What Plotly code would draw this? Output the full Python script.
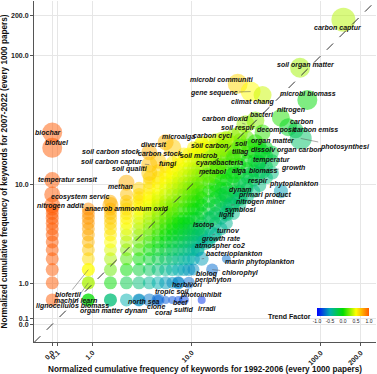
import math
import plotly.graph_objects as go

# ---------------- data ----------------
# papers per period (used for "every 1000 papers" normalisation)
N_PAPERS_1992_2006 = 1163
N_PAPERS_2007_2022 = 1923

tick_values = [0, 0.1, 1, 10, 100, 200]
tick_labels = ["0.0", "0.1", "1.0", "10.0", "100.0", "200.0"]

# unlabeled keywords: keyword count in 1992-2006 (column) and counts in 2007-2022
grid_c1 = [0, 1, 2, 3, 4, 5, 6, 7, 8, 9, 10, 11, 12, 13, 14, 16, 18, 20, 22, 25, 28, 32, 36, 40, 45, 50]
grid_c2 = [
    [1, 2, 3, 4, 5, 6, 7, 8, 9, 10, 11, 12],
    [1, 2, 3, 4, 5, 6, 7, 8, 9, 10, 11, 12],
    [1, 2, 3, 4, 5, 6, 7, 8, 9, 10, 11, 12, 14],
    [1, 2, 3, 4, 5, 6, 7, 8, 9, 10, 11, 12, 13, 14, 16],
    [1, 2, 3, 4, 5, 6, 7, 8, 9, 10, 11, 12, 13, 14, 15, 16, 18],
    [1, 2, 3, 4, 5, 6, 7, 8, 9, 10, 11, 12, 13, 14, 15, 16, 18, 20, 22],
    [1, 2, 3, 4, 5, 6, 7, 8, 9, 10, 11, 12, 13, 14, 15, 16, 18, 20, 22, 25],
    [2, 3, 4, 5, 6, 7, 8, 9, 10, 11, 12, 13, 14, 16, 18, 20, 22, 24, 27],
    [3, 4, 5, 6, 7, 8, 9, 10, 11, 12, 13, 14, 16, 18, 20, 22, 24, 26, 29],
    [2, 3, 4, 5, 6, 7, 8, 9, 10, 12, 14, 16, 18, 20, 22, 25, 28, 31],
    [3, 4, 5, 6, 7, 8, 9, 10, 12, 14, 16, 18, 20, 23, 26, 30, 34],
    [3, 4, 5, 6, 7, 8, 9, 10, 12, 14, 16, 18, 20, 23, 26, 30, 34],
    [4, 5, 6, 7, 8, 10, 12, 14, 16, 18, 20, 23, 26, 30, 34, 38],
    [5, 6, 7, 8, 10, 12, 14, 16, 18, 20, 23, 26, 30, 34, 38],
    [6, 7, 9, 11, 13, 15, 17, 20, 23, 26, 30, 34, 38, 42],
    [6, 8, 10, 12, 14, 17, 20, 23, 26, 30, 34, 38, 42],
    [7, 9, 11, 13, 15, 17, 19, 22, 25, 28, 32, 36, 40, 44],
    [8, 10, 12, 14, 16, 18, 21, 24, 28, 32, 36, 40, 45],
    [9, 11, 13, 15, 18, 21, 24, 28, 32, 36, 40, 46],
    [11, 13, 15, 17, 20, 24, 28, 32, 37, 42, 48],
    [13, 15, 17, 20, 24, 28, 33, 38, 44],
    [15, 18, 22, 26, 30, 35, 40, 46],
    [17, 21, 25, 30, 35, 40],
    [19, 24, 29, 34, 40],
    [22, 27, 33, 38],
    [24, 30, 35],
]

# labeled keywords
kw_names = [
    "carbon captur", "soil organ matter", "microbi biomass", "microbi communiti", "gene sequenc",
    "climat chang", "nitrogen", "bacteri", "carbon", "carbon dioxid",
    "soil respir", "decomposit", "carbon emiss", "photosynthesi", "carbon cycl",
    "organ matter", "soil carbon", "soil", "dissolv organ carbon", "soil microb",
    "microalga", "tillag", "temperatur", "cyanobacteria", "growth",
    "metabol", "alga", "biomass", "respir", "phytoplankton",
    "dynam", "primari product", "nitrogen miner", "symbiosi", "light",
    "isotop", "turnov", "growth rate", "atmospher co2", "bacterioplankton",
    "marin phytoplankton", "chlorophyl", "biolog", "periphyton", "herbivori",
    "tropic soil", "photoinhibit", "beef", "sulfid", "irradi",
    "coral", "clone", "north sea", "organ matter dynam", "lignocellulos biomass",
    "machin learn", "biofertil", "anaerob ammonium oxid", "nitrogen addit", "ecosystem servic",
    "temperatur sensit", "biochar", "biofuel", "soil carbon stock", "soil carbon captur",
    "carbon stock", "diversit", "fungi", "soil qualiti", "methan",
]
kw_c1 = [
    172, 81, 92, 27, 34,
    42, 58, 37, 66, 31,
    28, 42, 75, 82, 22,
    37, 21, 28, 42, 17,
    14, 25, 39, 19, 42,
    16, 25, 34, 31, 58,
    22, 28, 24, 22, 17,
    14, 17, 15, 13, 14,
    22, 17, 12, 11, 9,
    8, 10, 8, 9, 14,
    7, 6, 4, 2, 1,
    1, 1, 2, 0, 0,
    0, 0, 0, 5, 5,
    8, 7, 6, 5, 3,
]
kw_c2 = [
    358, 156, 89, 118, 103,
    97, 65, 62, 55, 58,
    49, 50, 52, 45, 44,
    42, 38, 39, 35, 32,
    40, 32, 29, 27, 25,
    23, 23, 23, 19, 17,
    16, 15, 13, 11, 10,
    8, 7, 6, 5, 4,
    4, 3, 3, 2, 2,
    2, 1, 1, 1, 1,
    1, 1, 1, 1, 1,
    2, 3, 13, 13, 16,
    21, 50, 38, 35, 28,
    38, 42, 30, 24, 20,
]

# ---------------- styling (positions / sizes) ----------------
GRID_SIZE = 13
kw_marker_px = [
    24, 20, 20, 20, 20,
    18, 18, 18, 18, 18,
    16, 16, 16, 22, 16,
    16, 16, 16, 16, 16,
    16, 16, 16, 16, 16,
    16, 16, 16, 16, 14,
    16, 16, 16, 16, 16,
    16, 16, 16, 14, 14,
    9, 12, 12, 12, 12,
    12, 10, 8, 8, 8,
    8, 10, 12, 13, 13,
    13, 13, 16, 16, 16,
    16, 20, 20, 16, 16,
    18, 16, 16, 16, 16,
]
# label centre offsets from the bubble, in pixels (dx right, dy down)
label_dx = [
    -5, 6, 1, -16, -37,
    -10, 10, 7, 13, -20,
    -1, 14, 20, 44, -13,
    18, -14, 2, 24, -13,
    -23, 7, 14, 1, 30,
    4, 6, 13, 13, 13,
    14, 25, 30, 14, 14,
    2, 16, 15, 22, 32,
    33, 28, 14, 24, 9,
    0, 17, 8, 5, 6,
    -2, -2, 5, 3, -16,
    -13, -20, 17, 8, 28,
    15, -4, 5, -38, -37,
    -12, -12, 10, -19, -6,
]
label_dy = [
    8, -3, -6, -4, 1,
    7, -8, -6, -6, -6,
    -6, -3, -1, 9, -4,
    -1, -2, -3, -2, -2,
    -8, -5, -3, -4, -3,
    -4, -4, -5, -4, -7,
    -4, -3, -3, -3, -3,
    -4, -5, -3, -4, -5,
    3, 3, 4, -3, 2,
    9, -5, 3, 10, 9,
    13, 7, 2, 11, 6,
    18, 25, 3, 1, 3,
    0, 0, -5, -1, -3,
    6, 2, 3, -4, 4,
]


def tr(v):
    return math.log10(v + 1.0)


def norm1(c):
    return c * 1000.0 / N_PAPERS_1992_2006


def norm2(c):
    return c * 1000.0 / N_PAPERS_2007_2022


def trend(c1, c2):
    return (c2 - c1) / (c2 + c1)


colorscale = [
    [0.0, "#0000FF"],
    [0.25, "#00AFAF"],
    [0.5, "#00DD00"],
    [0.75, "#FFFF00"],
    [1.0, "#FF5A00"],
]

gx, gy, gc = [], [], []
for c1, col in zip(grid_c1, grid_c2):
    for c2 in col:
        gx.append(tr(norm1(c1)))
        gy.append(tr(norm2(c2)))
        gc.append(trend(c1, c2))

kx = [tr(norm1(c)) for c in kw_c1]
ky = [tr(norm2(c)) for c in kw_c2]
kc = [trend(a, b) for a, b in zip(kw_c1, kw_c2)]

FONT = "Liberation Sans, Arial, sans-serif"
ML, MR, MT, MB = 34, 1, 1, 32
PW, PH = 377 - ML - MR, 374 - MT - MB

fig = go.Figure()
fig.add_trace(go.Scatter(
    x=gx, y=gy, mode="markers", hoverinfo="skip",
    marker=dict(size=GRID_SIZE, color=gc, colorscale=colorscale, cmin=-1, cmax=1,
                opacity=0.5, line=dict(width=0)),
    showlegend=False,
))
fig.add_trace(go.Scatter(
    x=kx, y=ky, mode="markers", text=kw_names,
    marker=dict(size=kw_marker_px, color=kc, colorscale=colorscale, cmin=-1, cmax=1,
                opacity=0.5, line=dict(width=0),
                showscale=True,
                colorbar=dict(orientation="h", x=(343 - ML) / PW, xanchor="center",
                              y=(374 - MB - 315) / PH, yanchor="middle",
                              lenmode="pixels", len=52, thickness=8, outlinewidth=0,
                              xpad=0, ypad=0,
                              tickvals=[-1, -0.5, 0, 0.5, 1],
                              ticktext=["-1.0", "-0.5", "0.0", "0.5", "1.0"],
                              ticks="", ticklen=0, tickangle=0,
                              tickfont=dict(size=5, family=FONT, color="#222"))),
    showlegend=False,
))

XR = [-0.136, 2.416]
YR = [-0.132, 2.413]
fig.add_shape(type="line", xref="x", yref="y", x0=-0.136, y0=-0.136, x1=2.416, y1=2.416,
              line=dict(color="#333", width=1, dash="dash"), layer="above")

annotations = []
for name, x, y, dx, dy in zip(kw_names, kx, ky, label_dx, label_dy):
    far = math.hypot(dx, dy) > 16
    a = dict(x=x, y=y, xref="x", yref="y", text=name,
             font=dict(family=FONT, size=7, color="#111", weight="bold", style="italic"))
    if far:
        a.update(showarrow=True, ax=dx, ay=dy, arrowhead=0, arrowwidth=0.5,
                 arrowcolor="#555", standoff=0)
    else:
        a.update(showarrow=False, xshift=dx, yshift=-dy)
    annotations.append(a)

annotations.append(dict(x=(313 - ML) / PW, y=(374 - MB - 316) / PH, xref="paper", yref="paper",
                        text="Trend Factor", showarrow=False, xanchor="right", yanchor="middle",
                        font=dict(family=FONT, size=7, color="#111", weight="bold")))

fig.update_layout(
    width=377, height=374,
    margin=dict(l=ML, r=MR, t=MT, b=MB, autoexpand=False),
    paper_bgcolor="white", plot_bgcolor="white",
    annotations=annotations,
    font=dict(family=FONT, color="#111"),
)
axis_common = dict(
    tickvals=[tr(v) for v in tick_values], ticktext=tick_labels,
    showgrid=True, gridcolor="#E6E6E6", gridwidth=0.8,
    zeroline=False, showline=True, linecolor="#555", linewidth=1,
    ticks="outside", ticklen=3, tickcolor="#555", automargin=False,
    tickfont=dict(family=FONT, size=7, color="#222", weight="bold"),
)
fig.update_xaxes(range=XR, tickangle=-45,
                 title=dict(text="Normalized cumulative frequency of keywords for 1992-2006 (every 1000 papers)",
                            font=dict(family=FONT, size=8.2, color="#111", weight="bold"), standoff=2),
                 **axis_common)
fig.update_yaxes(range=YR,
                 title=dict(text="Normalized cumulative frequency of keywords for 2007-2022 (every 1000 papers)",
                            font=dict(family=FONT, size=8.2, color="#111", weight="bold"), standoff=2),
                 **axis_common)

fig.write_html("out.html", config={"displayModeBar": False},
               post_script="document.body.style.margin='0';document.body.style.padding='0';"
                           "document.documentElement.style.overflow='hidden';")
